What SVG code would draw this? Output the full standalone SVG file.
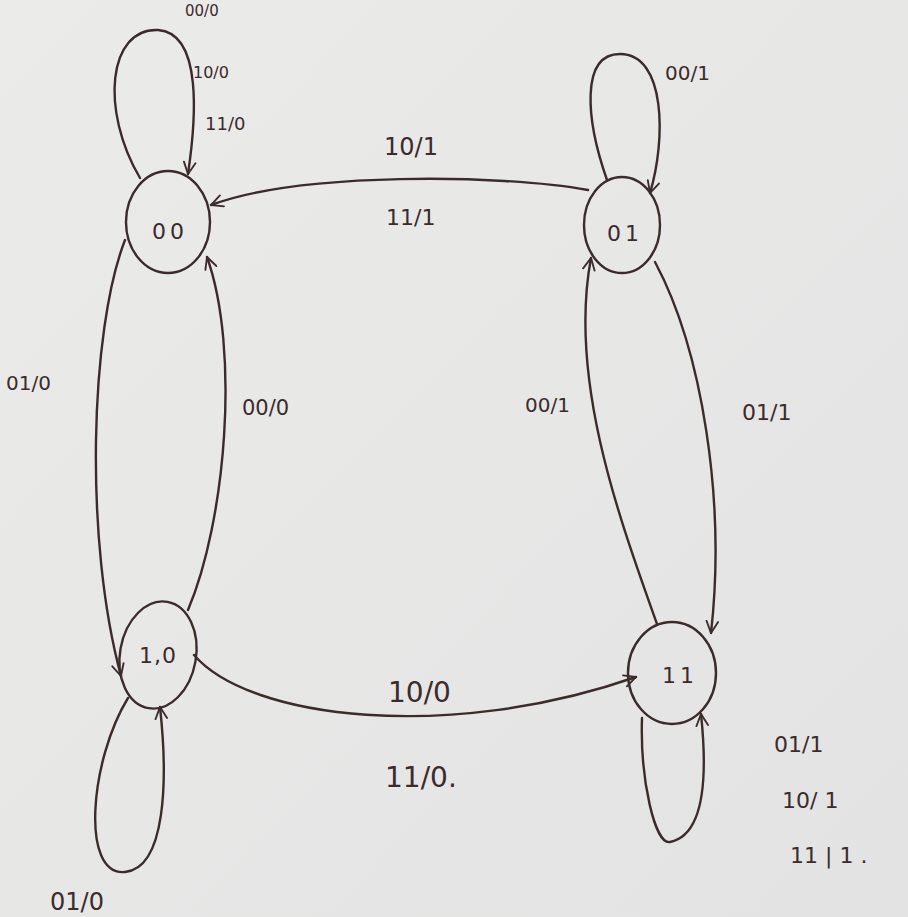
<svg xmlns="http://www.w3.org/2000/svg" width="908" height="917" viewBox="0 0 908 917">
  <style>
    .edge { fill: none; stroke: #3b2b2b; stroke-width: 2.4; stroke-linecap: round; }
    .state { fill: none; stroke: #3b2b2b; stroke-width: 2.4; }
    .lbl { font-family: "DejaVu Sans", "Liberation Sans", sans-serif; fill: #3b2b2b; }
    .name { font-family: "DejaVu Sans", "Liberation Sans", sans-serif; fill: #3b2b2b; font-size: 22px; letter-spacing: 4px; text-anchor: middle; }
  </style>
  <defs>
    <linearGradient id="paper" x1="0" y1="0" x2="1" y2="1">
      <stop offset="0" stop-color="#ebebea"/>
      <stop offset="1" stop-color="#e2e3e2"/>
    </linearGradient>
    <marker id="arrow" viewBox="0 0 12 12" refX="11" refY="6" markerWidth="14" markerHeight="14" markerUnits="userSpaceOnUse" orient="auto">
      <path d="M1,1 L11,6 L1,11" fill="none" stroke="#3b2b2b" stroke-width="1.6" stroke-linecap="round"/>
    </marker>
  </defs>

  <rect width="908" height="917" fill="url(#paper)"/>

  <!-- transitions -->
  <g id="connectors">
    <!-- 00 self loop -->
    <path class="edge" d="M140 178 C100 110 108 28 158 30 C203 33 196 120 188 174" marker-end="url(#arrow)"/>
    <!-- 01 self loop -->
    <path class="edge" d="M607 180 C586 120 580 54 620 54 C666 54 666 140 650 193" marker-end="url(#arrow)"/>
    <!-- 00 to 10 -->
    <path class="edge" d="M125 240 C90 330 84 540 121 676" marker-end="url(#arrow)"/>
    <!-- 10 to 00 -->
    <path class="edge" d="M188 610 C226 520 240 350 207 257" marker-end="url(#arrow)"/>
    <!-- 01 to 00 -->
    <path class="edge" d="M588 190 C500 174 300 172 211 205" marker-end="url(#arrow)"/>
    <!-- 10 to 11 -->
    <path class="edge" d="M194 655 C250 720 450 742 636 677" marker-end="url(#arrow)"/>
    <!-- 01 to 11 -->
    <path class="edge" d="M655 262 C702 350 726 500 711 633" marker-end="url(#arrow)"/>
    <!-- 11 to 01 -->
    <path class="edge" d="M657 624 C620 520 568 380 591 258" marker-end="url(#arrow)"/>
    <!-- 11 self loop -->
    <path class="edge" d="M642 718 C640 780 655 845 670 842 C700 836 709 790 701 714" marker-end="url(#arrow)"/>
    <!-- 10 self loop -->
    <path class="edge" d="M128 698 C90 760 80 876 125 872 C166 868 168 780 160 707" marker-end="url(#arrow)"/>
  </g>

  <g id="state-00">
    <ellipse class="state" cx="168" cy="222" rx="42" ry="51"/>
    <text class="name" x="170" y="239">00</text>
  </g>
  <g id="state-01">
    <ellipse class="state" cx="622" cy="225" rx="38" ry="48"/>
    <text class="name" x="625" y="241">01</text>
  </g>
  <g id="state-10">
    <ellipse class="state" cx="158" cy="655" rx="38" ry="54" transform="rotate(10 158 655)"/>
    <text class="name" x="158" y="663" style="letter-spacing:1px">1,0</text>
  </g>
  <g id="state-11">
    <ellipse class="state" cx="672" cy="673" rx="44" ry="51"/>
    <text class="name" x="680" y="683">11</text>
  </g>

  <!-- transition labels -->
  <g id="labels" class="lbl">
    <text x="185" y="16" font-size="15">00/0</text>
    <text x="193" y="78" font-size="16">10/0</text>
    <text x="205" y="130" font-size="18">11/0</text>

    <text x="384" y="155" font-size="24">10/1</text>
    <text x="386" y="225" font-size="22">11/1</text>

    <text x="665" y="80" font-size="20">00/1</text>

    <text x="6" y="390" font-size="20">01/0</text>
    <text x="242" y="415" font-size="21">00/0</text>

    <text x="525" y="412" font-size="20">00/1</text>
    <text x="742" y="420" font-size="22">01/1</text>

    <text x="388" y="702" font-size="28">10/0</text>
    <text x="385" y="787" font-size="28">11/0.</text>

    <text x="774" y="752" font-size="22">01/1</text>
    <text x="782" y="808" font-size="22">10/ 1</text>
    <text x="790" y="863" font-size="22">11 | 1 .</text>

    <text x="50" y="910" font-size="24">01/0</text>
  </g>
</svg>
